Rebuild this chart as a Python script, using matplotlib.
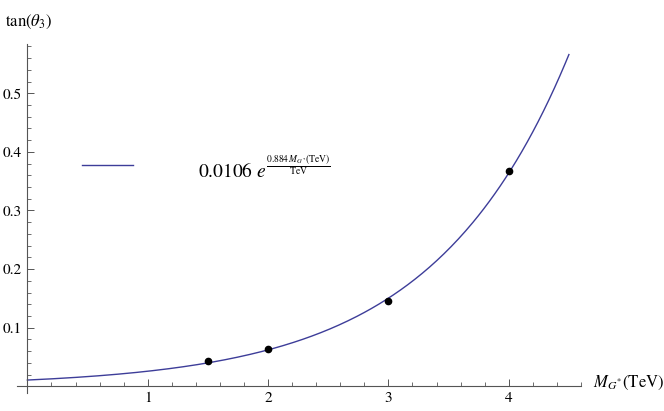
#!/usr/bin/env python3

import numpy as np
import matplotlib
matplotlib.use('Agg')
import matplotlib.pyplot as plt
from matplotlib.ticker import MultipleLocator

# 데이터
mass_tev = [1.5, 2.0, 3.0, 4.0]
tan_theta3 = [0.043, 0.064, 0.146, 0.367]

# 피팅 함수 계수: a * exp(b * M)
fit_a = 0.0106
fit_b = 0.884
fit_range = [0.0, 4.5]

x_ticks = [1, 2, 3, 4]
y_ticks = [0.1, 0.2, 0.3, 0.4, 0.5]

plt.rcParams['font.family'] = ['STIXGeneral', 'DejaVu Serif']
plt.rcParams['mathtext.fontset'] = 'stix'

AXIS_GRAY = '#555555'
CURVE_BLUE = '#3d3d99'


def draw_chart():
    fig = plt.figure(figsize=(6.64, 4.11), dpi=100)
    ax = fig.add_axes([0.0249, 0.0431, 0.850, 0.851])

    # 피팅 곡선
    xs = np.linspace(fit_range[0], fit_range[1], 300)
    ax.plot(xs, fit_a * np.exp(fit_b * xs), color=CURVE_BLUE, linewidth=1.0,
            zorder=2)

    # 데이터 점
    ax.plot(mass_tev, tan_theta3, 'o', color='black', markersize=4.5, zorder=3)

    ax.set_xlim(-0.09, 4.6)
    ax.set_ylim(-0.012, 0.585)

    # 원점에서 교차하는 축 (Mathematica 스타일)
    for side in ['top', 'right']:
        ax.spines[side].set_visible(False)
    ax.spines['left'].set_position(('data', 0))
    ax.spines['bottom'].set_position(('data', 0))
    for side in ['left', 'bottom']:
        ax.spines[side].set_color(AXIS_GRAY)
        ax.spines[side].set_linewidth(0.8)

    ax.set_xticks(x_ticks)
    ax.set_yticks(y_ticks)
    ax.set_xticklabels([str(t) for t in x_ticks])
    ax.set_yticklabels([f'{t:.1f}' for t in y_ticks])
    ax.xaxis.set_minor_locator(MultipleLocator(0.2))
    ax.yaxis.set_minor_locator(MultipleLocator(0.02))

    ax.tick_params(which='both', direction='in', color=AXIS_GRAY,
                   labelsize=11, labelcolor='black')
    ax.tick_params(which='major', length=5, width=0.7, pad=4)
    ax.tick_params(which='minor', length=3, width=0.6)

    # 축 제목
    fig.text(593 / 664, 1 - 383 / 411, r'$M_{G^{*}}$(TeV)', fontsize=12,
             ha='left', va='center')
    fig.text(5 / 664, 1 - 22 / 411, r'tan$\left(\theta_3\right)$', fontsize=12,
             ha='left', va='center')

    # 범례
    ax.plot([0.45, 0.88], [0.378, 0.378], color=CURVE_BLUE, linewidth=1.0,
            clip_on=False)
    fig.text(198 / 664, 1 - 178 / 411,
             r'$0.0106\ e^{\frac{0.884\,M_{G^{*}}\mathrm{(TeV)}}{\mathrm{TeV}}}$',
             fontsize=14, ha='left', va='baseline')

    fig.savefig('out.png', dpi=100)
    plt.close(fig)


def main():
    draw_chart()


if __name__ == '__main__':
    main()
